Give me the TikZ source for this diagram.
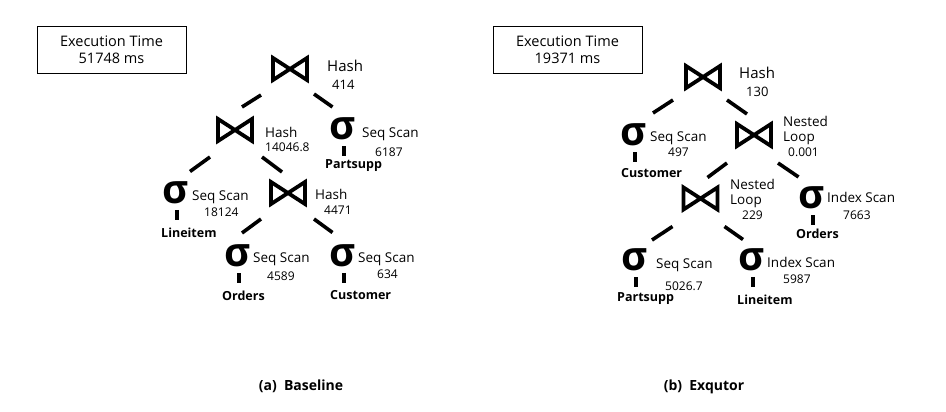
\documentclass[tikz,border=0pt]{standalone}
\usepackage{fontspec}
\setmainfont{Open Sans}
\usetikzlibrary{calc}
\newcommand{\drawtie}[1]{%
  \draw[tie] ($(#1.center)+(-17,-11)$) -- ($(#1.center)+(17,11)$) --
    ($(#1.center)+(17,-11)$) -- ($(#1.center)+(-17,11)$) -- cycle;}
\newcommand{\drawbar}[1]{%
  \draw[bar] ($(#1.south)+(1,6)$) -- ($(#1.south)+(1,16)$);}
\begin{document}
\begin{tikzpicture}[x=1pt,y=-1pt,
  lbl/.style={inner sep=0pt,anchor=base west,font=\fontsize{13.5}{15}\selectfont},
  rootlbl/.style={inner sep=0pt,anchor=base west,font=\fontsize{15}{17}\selectfont},
  num/.style={inner sep=0pt,anchor=base west,font=\fontsize{12}{13}\selectfont},
  rootnum/.style={inner sep=0pt,anchor=base west,font=\fontsize{13}{14}\selectfont},
  rel/.style={inner sep=0pt,anchor=base west,font=\bfseries\fontsize{12.5}{14}\selectfont},
  sig/.style={inner sep=0pt,font=\bfseries\fontsize{40}{44}\selectfont},
  tiebox/.style={inner sep=0pt,minimum width=38pt,minimum height=26pt},
  tie/.style={line width=3.8pt,line join=miter},
  conn/.style={line width=3.6pt},
  bar/.style={line width=4pt},
  execbox/.style={draw,line width=0.8pt,minimum width=149pt,minimum height=47pt,
    align=center,inner sep=0pt,font=\fontsize{14.5}{17}\selectfont},
  captext/.style={font=\bfseries\fontsize{14}{16}\selectfont,anchor=base,inner sep=0pt}]
\useasboundingbox[fill=white] (0,0) rectangle (946,412);

% ---------------- (a) Baseline ----------------
\node[execbox] (ea) at (111.5,49.5) {Execution Time\\51748 ms};

\node[tiebox] (ar) at (290,69) {};   \drawtie{ar}
\node[rootlbl] (arl) at (327,72) {Hash};
\node[rootnum] (arn) at (332,89) {414};

\node[tiebox] (aha) at (235,130) {}; \drawtie{aha}
\node[lbl] (ahal) at (265,137) {Hash};
\node[num] (ahan) at (265,151) {14046.8};

\node[sig] (aps) at (342.5,129) {σ}; \drawbar{aps}
\node[lbl] (apsl) at (362,137) {Seq Scan};
\node[num] (apsn) at (375,156) {6187};
\node[rel] (apsr) at (325,168) {Partsupp};

\node[sig] (als) at (176,192.5) {σ}; \drawbar{als}
\node[lbl] (alsl) at (192,200) {Seq Scan};
\node[num] (alsn) at (204,216) {18124};
\node[rel] (alsr) at (161,237) {Lineitem};

\node[tiebox] (ahb) at (288,193) {}; \drawtie{ahb}
\node[lbl] (ahbl) at (315,199) {Hash};
\node[num] (ahbn) at (324,214) {4471};

\node[sig] (aos) at (238,256) {σ}; \drawbar{aos}
\node[lbl] (aosl) at (253,262) {Seq Scan};
\node[num] (aosn) at (267,280) {4589};
\node[rel] (aosr) at (222,300) {Orders};

\node[sig] (acs) at (342.5,255.5) {σ}; \drawbar{acs}
\node[lbl] (acsl) at (358,262) {Seq Scan};
\node[num] (acsn) at (377,278) {634};
\node[rel] (acsr) at (330,299) {Customer};

\draw[conn] ($(ar)+(-29,26)$) -- ($(aha)+(7,-23)$);
\draw[conn] ($(ar)+(24,25)$) -- ($(aps)+(-10,-22)$);
\draw[conn] ($(aha)+(-25,27)$) -- ($(als)+(14,-21)$);
\draw[conn] ($(aha)+(27,27)$) -- ($(ahb)+(-6,-21)$);
\draw[conn] ($(ahb)+(-27,26)$) -- ($(aos)+(4,-23)$);
\draw[conn] ($(ahb)+(26,26)$) -- ($(acs)+(-10,-23)$);

\node[captext] (capa) at (301,390) {(a)~ Baseline};

% ---------------- (b) Exqutor ----------------
\node[execbox] (eb) at (567.5,49.5) {Execution Time\\19371 ms};

\node[tiebox] (br) at (703,77) {};   \drawtie{br}
\node[rootlbl] (brl) at (739,78) {Hash};
\node[rootnum] (brn) at (746,96) {130};

\node[sig] (bcs) at (634,135) {σ}; \drawbar{bcs}
\node[lbl] (bcsl) at (650,142) {Seq Scan};
\node[num] (bcsn) at (668,157) {497};
\node[rel] (bcsr) at (621,177) {Customer};

\node[tiebox] (bn1) at (754,135) {}; \drawtie{bn1}
\node[lbl] (bn1a) at (783,126) {Nested};
\node[lbl] (bn1b) at (783,142) {Loop};
\node[num] (bn1n) at (788,157) {0.001};

\node[tiebox] (bn2) at (700.5,198.5) {}; \drawtie{bn2}
\node[lbl] (bn2a) at (730,189) {Nested};
\node[lbl] (bn2b) at (730,204) {Loop};
\node[num] (bn2n) at (742,219) {229};

\node[sig] (bos) at (811.5,198) {σ}; \drawbar{bos}
\node[lbl] (bosl) at (827,202) {Index Scan};
\node[num] (bosn) at (843,219) {7663};
\node[rel] (bosr) at (796,238) {Orders};

\node[sig] (bps) at (635,260) {σ}; \drawbar{bps}
\node[lbl] (bpsl) at (656,268) {Seq Scan};
\node[num] (bpsn) at (665,290) {5026.7};
\node[rel] (bpsr) at (617,301) {Partsupp};

\node[sig] (bls) at (752,259.5) {σ}; \drawbar{bls}
\node[lbl] (blsl) at (767,267) {Index Scan};
\node[num] (blsn) at (783,283) {5987};
\node[rel] (blsr) at (737,304) {Lineitem};

\draw[conn] ($(br)+(-30,23)$) -- ($(bcs)+(19,-22)$);
\draw[conn] ($(br)+(24,23)$) -- ($(bn1)+(-7,-21)$);
\draw[conn] ($(bn1)+(-27,28)$) -- ($(bn2)+(7,-21)$);
\draw[conn] ($(bn1)+(24,28)$) -- ($(bos)+(-13,-21)$);
\draw[conn] ($(bn2)+(-28,28)$) -- ($(bps)+(17,-20)$);
\draw[conn] ($(bn2)+(24,28)$) -- ($(bls)+(-9,-20)$);

\node[captext] (capb) at (704,390) {(b)~ Exqutor};
\end{tikzpicture}
\end{document}
